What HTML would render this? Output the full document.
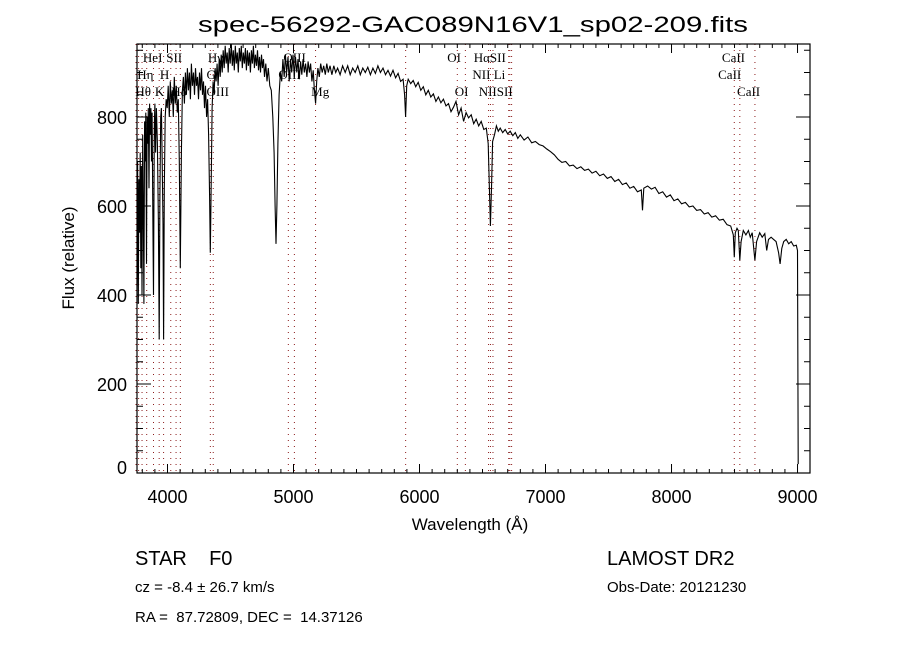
<!DOCTYPE html>
<html><head><meta charset="utf-8"><style>
body{margin:0;background:#fff;}
svg text{font-family:"Liberation Sans",sans-serif;fill:#000;}
.s{font-family:"Liberation Serif",serif;}
</style></head><body>
<svg id="c" width="900" height="650" viewBox="0 0 900 650" xmlns="http://www.w3.org/2000/svg">
<rect x="0" y="0" width="900" height="650" fill="#fff"/>
<text x="473" y="32" font-size="22" text-anchor="middle" textLength="550" lengthAdjust="spacingAndGlyphs">spec-56292-GAC089N16V1_sp02-209.fits</text>
<g id="lines"></g>
<g id="labels"></g>
<path id="spec" fill="none" stroke="#000" stroke-width="1.1"/>
<rect x="137" y="44" width="673" height="429" fill="none" stroke="#000" stroke-width="1.2"/>
<g id="ticks"></g>
<text x="470" y="530" font-size="17" text-anchor="middle">Wavelength (Å)</text>
<text transform="translate(74,258) rotate(-90)" font-size="17" text-anchor="middle">Flux (relative)</text>
<text x="135" y="565" font-size="20" xml:space="preserve">STAR    F0</text>
<text x="607" y="565" font-size="20">LAMOST DR2</text>
<text x="135" y="592" font-size="15">cz = -8.4 ± 26.7 km/s</text>
<text x="607" y="592" font-size="15">Obs-Date: 20121230</text>
<text x="135" y="622" font-size="15" xml:space="preserve">RA =  87.72809, DEC =  14.37126</text>
</svg>
<script>
const wl=[3758,3763,3768,3773,3778,3783,3788,3793,3798,3803,3808,3813,3818,3823,3828,3833,3838,3843,3848,3853,3858,3863,3868,3873,3878,3884,3889,3895,3900,3906,3912,3920,3928,3934,3940,3946,3952,3958,3964,3969,3975,3982,3990,3998,4006,4014,4022,4030,4038,4046,4054,4062,4070,4078,4086,4094,4102,4110,4118,4126,4134,4142,4150,4158,4166,4174,4182,4190,4198,4206,4214,4222,4230,4238,4246,4254,4262,4270,4278,4286,4294,4302,4310,4318,4326,4334,4340,4347,4354,4362,4370,4378,4386,4394,4402,4410,4418,4426,4434,4442,4450,4458,4466,4474,4482,4490,4498,4506,4514,4522,4530,4538,4546,4554,4562,4570,4578,4586,4594,4602,4610,4618,4626,4634,4642,4650,4658,4666,4674,4682,4690,4698,4706,4714,4722,4730,4738,4746,4754,4762,4770,4780,4790,4800,4812,4824,4836,4846,4854,4861,4868,4876,4886,4896,4906,4916,4926,4936,4946,4956,4966,4976,4986,4996,5006,5016,5026,5036,5046,5056,5066,5076,5086,5096,5106,5116,5126,5136,5146,5156,5166,5175,5184,5194,5205,5216,5228,5240,5252,5264,5276,5290,5305,5320,5335,5350,5370,5390,5410,5430,5450,5470,5490,5510,5530,5550,5570,5590,5610,5630,5650,5670,5690,5710,5730,5750,5770,5790,5810,5830,5850,5870,5882,5890,5898,5910,5930,5950,5970,5990,6010,6030,6050,6070,6090,6110,6130,6150,6170,6190,6210,6230,6250,6270,6290,6310,6330,6350,6370,6390,6410,6430,6450,6470,6490,6510,6530,6545,6555,6563,6571,6580,6595,6610,6625,6640,6660,6680,6700,6720,6740,6760,6780,6800,6830,6860,6890,6920,6950,6980,7010,7040,7070,7100,7130,7160,7190,7220,7250,7280,7310,7340,7370,7400,7430,7460,7490,7520,7550,7580,7610,7640,7670,7700,7730,7760,7770,7780,7810,7840,7870,7900,7930,7960,7990,8020,8050,8080,8110,8140,8170,8200,8230,8260,8290,8320,8350,8380,8410,8440,8470,8490,8498,8506,8520,8530,8542,8552,8570,8590,8610,8625,8640,8662,8675,8700,8720,8740,8755,8770,8790,8810,8830,8850,8862,8875,8890,8910,8930,8950,8970,8990,9000,9005];
const flux=[420,700,380,660,540,720,460,690,400,760,600,380,790,700,810,470,800,740,820,640,830,760,820,700,810,560,400,780,830,720,820,740,560,300,620,800,820,700,560,300,640,800,840,820,870,800,880,830,860,800,890,830,870,810,840,700,460,720,860,890,830,900,850,910,860,900,840,920,870,900,850,910,870,890,840,900,860,910,850,880,820,870,800,840,760,620,495,650,820,880,850,910,880,920,870,930,890,940,900,950,910,960,920,945,900,955,920,965,915,950,905,960,920,945,900,955,925,960,910,945,920,955,905,950,915,945,900,950,920,960,910,940,915,950,905,935,900,940,910,930,890,920,880,910,870,860,800,720,600,515,600,740,850,900,880,930,890,940,900,935,880,930,900,940,890,935,900,930,885,925,895,930,900,920,890,925,900,920,880,905,860,830,880,910,890,920,900,915,895,920,900,915,895,915,900,910,895,915,900,915,895,910,900,915,895,910,900,912,895,910,898,915,900,910,895,905,892,905,888,898,880,885,850,800,870,885,875,882,868,878,860,868,850,860,845,852,835,845,832,840,825,830,812,822,835,805,820,790,810,798,805,785,795,780,790,772,775,740,640,555,640,745,760,780,768,775,765,772,762,768,758,765,752,760,748,755,742,745,738,735,728,722,715,705,698,700,690,692,684,688,680,683,674,678,668,672,662,666,655,660,648,652,640,644,632,636,590,640,645,638,642,628,632,620,625,612,616,605,608,598,600,590,592,582,585,575,578,568,570,558,555,535,485,540,550,545,478,520,545,535,545,530,540,478,520,540,530,538,500,525,530,525,520,495,470,505,520,525,515,520,510,512,500,20];
const lineWl=[3750,3771,3798,3835,3889,3934,3969,4026,4068,4102,4340,4363,4959,5007,5175,5890,6300,6364,6548,6563,6583,6708,6717,6731,8498,8542,8662];
const labelText=["HeI","SII","Hγ","OIII","OI","HαSII","CaII","Hη","H","G","OIII","NII Li","CaII","Hθ","K","Hδ","OIII","Mg","OI","NIISII","CaII"];
const labelWl=[3805,3990,4320,4920,6220,6430,8400,3760,3940,4310,4880,6420,8370,3745,3900,4030,4310,5140,6280,6470,8520];
const labelRow=[0,0,0,0,0,0,0,1,1,1,1,1,1,2,2,2,2,2,2,2,2];
const xTicks=[4000,5000,6000,7000,8000,9000];
const yTicks=[0,200,400,600,800];
const X0=137,X1=810,W0=3758,W1=9099,Y0=473,F0=0,FS=0.445;
const xs=w=>X0+(w-W0)*(X1-X0)/(W1-W0);
const ys=f=>Y0-(f-F0)*FS;
const NS="http://www.w3.org/2000/svg";
function mk(t,p,a){const e=document.createElementNS(NS,t);for(const k in a)e.setAttribute(k,a[k]);p.appendChild(e);return e;}
let d="";wl.forEach((w,i)=>{d+=(i?"L":"M")+xs(w).toFixed(1)+","+Math.max(44,ys(flux[i])).toFixed(1);});
document.getElementById("spec").setAttribute("d",d);
const lg=document.getElementById("lines");
lineWl.forEach(w=>{const e=mk("line",lg,{x1:xs(w),x2:xs(w),y1:44,y2:473,stroke:"#8b1a1a","stroke-width":1,"stroke-dasharray":"1,5"});

});
const lb=document.getElementById("labels");const rowY=[62,79,96];
labelText.forEach((t,i)=>{const e=mk("text",lb,{x:xs(labelWl[i]),y:rowY[labelRow[i]],"font-size":13,class:"s"});e.textContent=t;

});
const tg=document.getElementById("ticks");
for(let w=3800;w<=9099;w+=100){const M=w%1000===0;const x=xs(w);
mk("line",tg,{x1:x,x2:x,y1:473,y2:473-(M?9:4),stroke:"#000"});mk("line",tg,{x1:x,x2:x,y1:44,y2:44+(M?9:4),stroke:"#000"});}
xTicks.forEach(w=>{const e=mk("text",tg,{x:xs(w),y:503,"font-size":18,"text-anchor":"middle"});e.textContent=w;

});
for(let f=0;f<=950;f+=50){const M=f%200===0;const y=ys(f);
mk("line",tg,{x1:137,x2:137+(M?14:6),y1:y,y2:y,stroke:"#000"});mk("line",tg,{x1:810,x2:810-(M?14:6),y1:y,y2:y,stroke:"#000"});}
yTicks.forEach(f=>{const e=mk("text",tg,{x:127,y:ys(f)+(f===0?1:7),"font-size":18,"text-anchor":"end"});e.textContent=f;

});
</script>
</body></html>
